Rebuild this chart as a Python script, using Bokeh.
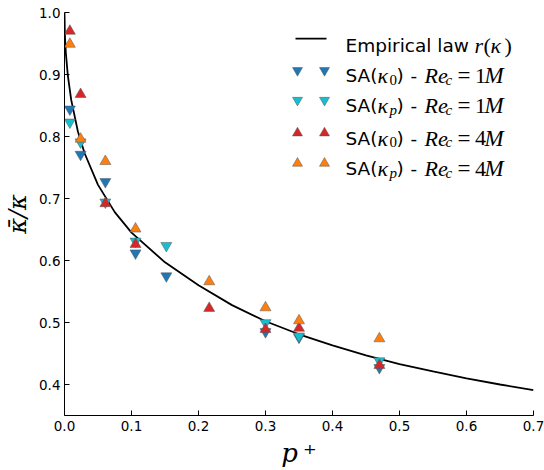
from bokeh.plotting import figure
from bokeh.models import Label, FixedTicker, Range1d, NumeralTickFormatter
from bokeh.embed import file_html
from bokeh.resources import INLINE

# ---------------- data ----------------
law_p = [0.0, 0.0005, 0.001, 0.002, 0.005, 0.01, 0.02, 0.03, 0.05, 0.075, 0.1,
         0.15, 0.2, 0.25, 0.3, 0.35, 0.4, 0.45, 0.5, 0.55, 0.6, 0.65, 0.7]
law_r = [1.0, 0.967, 0.954, 0.935, 0.898, 0.859, 0.808, 0.773, 0.722, 0.678, 0.645,
         0.597, 0.560, 0.528, 0.502, 0.481, 0.463, 0.447, 0.433, 0.421, 0.410, 0.400, 0.391]

p_1M = [0.008, 0.024, 0.061, 0.106, 0.152, 0.30, 0.35, 0.47]
k0_1M = [0.844, 0.771, 0.727, 0.612, 0.575, 0.485, 0.476, 0.427]
kp_1M = [0.823, 0.791, 0.694, 0.631, 0.624, 0.4995, 0.478, 0.438]

p_4M = [0.008, 0.024, 0.061, 0.106, 0.216, 0.30, 0.35, 0.47]
k0_4M = [0.970, 0.868, 0.692, 0.626, 0.523, 0.489, 0.491, 0.431]
kp_4M = [0.949, 0.796, 0.760, 0.651, 0.566, 0.524, 0.503, 0.474]

x_ticks = [0.0, 0.1, 0.2, 0.3, 0.4, 0.5, 0.6, 0.7]
y_ticks = [0.4, 0.5, 0.6, 0.7, 0.8, 0.9, 1.0]

C_BLUE, C_CYAN, C_RED, C_ORANGE = "#1f77b4", "#17becf", "#d62728", "#ff7f0e"

p = figure(width=544, height=470, output_backend="svg", toolbar_location=None,
           x_range=Range1d(0, 0.7), y_range=Range1d(0.35, 1.0),
           min_border_left=64, min_border_right=11, min_border_top=12, min_border_bottom=54)
p.outline_line_color = None
p.xgrid.visible = False
p.ygrid.visible = False
p.background_fill_color = "white"
p.border_fill_color = "white"

for ax in (p.xaxis[0], p.yaxis[0]):
    ax.axis_line_color = "black"
    ax.axis_line_width = 1
    ax.major_tick_in = 5
    ax.major_tick_out = 0
    ax.minor_tick_line_color = None
    ax.major_tick_line_color = "black"
    ax.major_label_text_font = "DejaVu Sans"
    ax.major_label_text_font_size = "13.5px"
    ax.major_label_text_color = "black"
    ax.major_label_standoff = 4
    ax.formatter = NumeralTickFormatter(format="0.0")
    ax.axis_label_text_color = "black"
    ax.axis_label_standoff = 4

p.xaxis[0].major_label_standoff = 5
p.xaxis[0].ticker = FixedTicker(ticks=x_ticks)
p.yaxis[0].ticker = FixedTicker(ticks=y_ticks)
p.xaxis[0].axis_label = "p\u2009\u207a"
p.xaxis[0].axis_label_text_font = "DejaVu Serif"
p.xaxis[0].axis_label_text_font_style = "italic"
p.xaxis[0].axis_label_text_font_size = "26px"
p.yaxis[0].axis_label = "\u03ba\u0304/\u03ba"
p.yaxis[0].axis_label_text_font = "DejaVu Serif"
p.yaxis[0].axis_label_text_font_style = "italic"
p.yaxis[0].axis_label_text_font_size = "24px"

# empirical law
p.line(law_p, law_r, line_color="black", line_width=1.8)

mk = dict(size=11, line_color="#555555", line_width=0.5)
p.scatter(p_1M, k0_1M, marker="inverted_triangle", fill_color=C_BLUE, **mk)
p.scatter(p_1M, kp_1M, marker="inverted_triangle", fill_color=C_CYAN, **mk)
p.scatter(p_4M, k0_4M, marker="triangle", fill_color=C_RED, **mk)
p.scatter(p_4M, kp_4M, marker="triangle", fill_color=C_ORANGE, **mk)

# ---------------- hand-built legend (layout in page pixels) ----------------
def X(px):
    return (px - 64.0) / 670.0

def Y(py):
    return 1.0 - (py - 11.7) / 624.0

SANS = "DejaVu Sans"
SERIF = "Liberation Serif"
MATH = "22px"

def txt(px, py, s, font=SANS, size="18.5px", style="normal"):
    p.add_layout(Label(x=X(px), y=Y(py), text=s, text_font=font, text_font_size=size,
                       text_font_style=style, text_color="black",
                       text_baseline="alphabetic", text_align="left"))

# line entry
p.line([X(295), X(326)], [Y(38), Y(38)], line_color="black", line_width=1.8)
txt(345, 44.5, "Empirical law")
txt(474, 44.5, "r", SERIF, MATH, "italic")
txt(483, 44.5, "(", SERIF, MATH)
txt(490, 44.5, "\u03ba", SERIF, MATH, "italic")
txt(504, 44.5, ")", SERIF, MATH)

rows = [
    (70, 75.5, "inverted_triangle", C_BLUE, "0", "1"),
    (100, 105.5, "inverted_triangle", C_CYAN, "p", "1"),
    (133, 138.5, "triangle", C_RED, "0", "4"),
    (163.5, 169, "triangle", C_ORANGE, "p", "4"),
]
for my, base, marker, col, sub, num in rows:
    p.scatter([X(297), X(324)], [Y(my), Y(my)], marker=marker, fill_color=col,
              size=10, line_color="#555555", line_width=0.5)
    txt(345, base, "SA(")
    txt(377, base, "\u03ba", SERIF, MATH, "italic")
    txt(389, base + 4, sub, SERIF, "15px", "italic" if sub == "p" else "normal")
    txt(396, base, ")")
    txt(410, base, "-")
    txt(424, base, "Re", SERIF, MATH, "italic")
    txt(445, base + 4, "c", SERIF, "15px", "italic")
    txt(457, base, "=", SERIF, "23px")
    txt(474.5, base, num, SERIF, MATH)
    txt(484, base, "M", SERIF, "23px", "italic")

open("out.html", "w").write(file_html(p, INLINE))
